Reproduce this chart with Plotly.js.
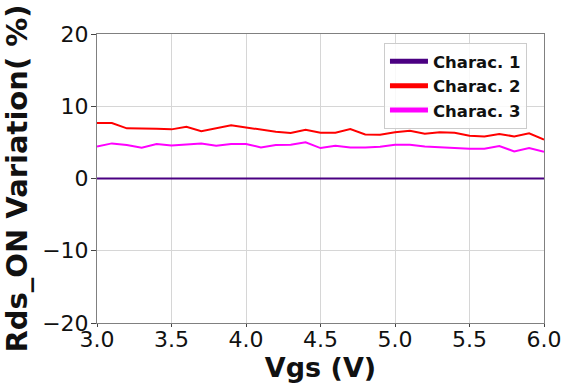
<!DOCTYPE html>
<html>
<head>
<meta charset="utf-8">
<script src="https://cdn.plot.ly/plotly-3.0.1.min.js"></script>
<style>html,body{margin:0;padding:0;background:#fff;}#chart{width:563px;height:383px;}</style>
</head>
<body>
<div id="chart"></div>
<script>
var vgs = [3.0,3.1,3.2,3.3,3.4,3.5,3.6,3.7,3.8,3.9,4.0,4.1,4.2,4.3,4.4,4.5,4.6,4.7,4.8,4.9,5.0,5.1,5.2,5.3,5.4,5.5,5.6,5.7,5.8,5.9,6.0];
var charac1 = [0,0,0,0,0,0,0,0,0,0,0,0,0,0,0,0,0,0,0,0,0,0,0,0,0,0,0,0,0,0,0];
var charac2 = [7.68,7.68,6.94,6.94,6.90,6.80,7.17,6.53,6.94,7.36,7.06,6.76,6.48,6.30,6.76,6.34,6.34,6.85,6.10,6.06,6.39,6.60,6.20,6.39,6.34,5.92,5.83,6.16,5.83,6.25,5.37];
var charac3 = [4.44,4.86,4.63,4.25,4.76,4.58,4.72,4.86,4.53,4.76,4.78,4.30,4.63,4.67,5.00,4.21,4.53,4.30,4.30,4.40,4.67,4.67,4.44,4.30,4.17,4.12,4.12,4.49,3.75,4.21,3.70];
var names = ['Charac. 1','Charac. 2','Charac. 3'];
var colors = ['#4B0082','#FF0000','#FF00FF'];
var series = [charac1, charac2, charac3];
var yTicks = [-20,-10,0,10,20];
var xTicks = [3.0,3.5,4.0,4.5,5.0,5.5,6.0];

var font = 'DejaVu Sans, Verdana, sans-serif';
var traces = [];
for (var i = 0; i < 3; i++) {
  traces.push({x: vgs, y: series[i], type: 'scatter', mode: 'lines', name: names[i],
    line: {color: colors[i], width: 2}, showlegend: false, hoverinfo: 'skip'});
}
for (var j = 0; j < 3; j++) {
  traces.push({x: [null], y: [null], type: 'scatter', mode: 'lines', name: names[j],
    line: {color: colors[j], width: 5}, showlegend: true});
}
var axisCommon = {
  showline: true, mirror: true, linecolor: '#808080', linewidth: 1,
  showgrid: true, gridcolor: '#d6d6d6', gridwidth: 1, zeroline: false,
  ticks: 'outside', tickcolor: '#444', tickwidth: 1,
  tickfont: {family: font, size: 22, color: '#111'}
};
var layout = {
  width: 563, height: 383,
  margin: {l: 97, r: 19, t: 34, b: 60},
  paper_bgcolor: '#fff', plot_bgcolor: '#fff',
  font: {family: font},
  xaxis: Object.assign({}, axisCommon, {
    range: [3, 6], tickvals: xTicks, tickformat: '.1f', ticklen: 3, ticklabelstandoff: -6,
    title: {text: '<b>Vgs (V)</b>', font: {family: font, size: 27, color: '#111'}, standoff: 6},
    automargin: false
  }),
  yaxis: Object.assign({}, axisCommon, {
    range: [-20, 20], tickvals: yTicks, ticklen: 5, ticklabelstandoff: -2,
    title: {text: '<b>Rds_ON Variation( %)</b>', font: {family: font, size: 29, color: '#111'}, standoff: 6},
    automargin: false
  }),
  legend: {
    x: 0.642, y: 0.969, xanchor: 'left', yanchor: 'top', itemwidth: 38,
    bgcolor: 'rgba(255,255,255,0.85)', bordercolor: '#cccccc', borderwidth: 1,
    font: {family: font, size: 16.5, color: '#111', weight: 'bold'}
  }
};
Plotly.newPlot('chart', traces, layout, {displayModeBar: false, staticPlot: true});
</script>
</body>
</html>
